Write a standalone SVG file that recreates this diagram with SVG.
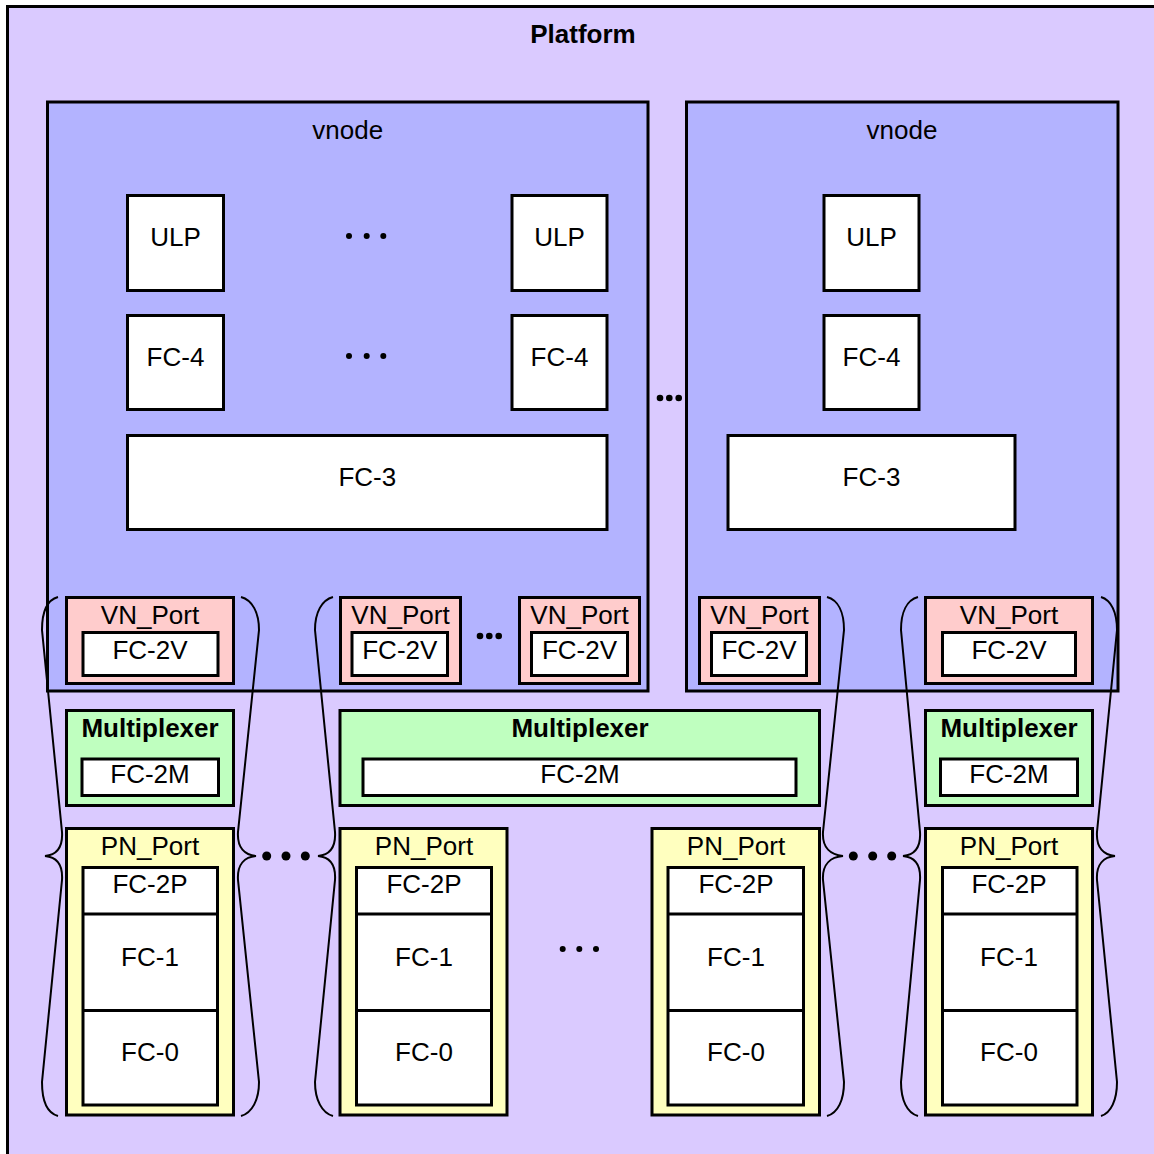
<svg xmlns="http://www.w3.org/2000/svg" width="1154" height="1154" viewBox="0 0 1154 1154">
<style>
.b{stroke:#000;stroke-width:3}
.plat{fill:#DACAFF}
.vn{fill:#B3B3FF}
.w{fill:#FFFFFF}
.pink{fill:#FFCCCC}
.grn{fill:#BFFFBF}
.yel{fill:#FFFFBF}
text{font-family:"Liberation Sans",Arial,sans-serif;font-size:26px;text-anchor:middle;fill:#000}
.bold{font-weight:bold}
.br{fill:none;stroke:#000;stroke-width:2}
.dot{fill:#000}
</style>
<g id="platform">
<rect class="plat b" x="7.5" y="6.5" width="1160" height="1160"/>
<text class="bold" x="583" y="43">Platform</text>
</g>
<g id="vnode1">
<rect class="vn b" x="47.5" y="102" width="600.5" height="589"/>
<text x="347.7" y="139">vnode</text>
</g>
<g id="vnode2">
<rect class="vn b" x="686.5" y="102" width="431.5" height="589"/>
<text x="902" y="139">vnode</text>
</g>
<g id="ulp1"><rect class="w b" x="127.5" y="195.5" width="96" height="95"/><text x="175.5" y="246">ULP</text></g>
<g id="ulp2"><rect class="w b" x="512" y="195.5" width="95" height="95"/><text x="559.5" y="246">ULP</text></g>
<g id="ulp3"><rect class="w b" x="824" y="195.5" width="95" height="95"/><text x="871.5" y="246">ULP</text></g>
<g id="fc4-1"><rect class="w b" x="127.5" y="315.5" width="96" height="94"/><text x="175.5" y="366">FC-4</text></g>
<g id="fc4-2"><rect class="w b" x="512" y="315.5" width="95" height="94"/><text x="559.5" y="366">FC-4</text></g>
<g id="fc4-3"><rect class="w b" x="824" y="315.5" width="95" height="94"/><text x="871.5" y="366">FC-4</text></g>
<g id="fc3-1"><rect class="w b" x="127.5" y="435.5" width="479.5" height="94"/><text x="367.3" y="486">FC-3</text></g>
<g id="fc3-2"><rect class="w b" x="728" y="435.5" width="287" height="94"/><text x="871.5" y="486">FC-3</text></g>

<g id="vnport1"><rect class="pink b" x="66.5" y="597.5" width="167" height="86"/><rect class="w b" x="83" y="632.5" width="135" height="43"/><text x="150" y="624">VN_Port</text><text x="150" y="659">FC-2V</text></g>
<g id="vnport2"><rect class="pink b" x="340.5" y="597.5" width="120" height="86"/><rect class="w b" x="352" y="632.5" width="95.5" height="43"/><text x="400.5" y="624">VN_Port</text><text x="399.8" y="659">FC-2V</text></g>
<g id="vnport3"><rect class="pink b" x="519.5" y="597.5" width="120" height="86"/><rect class="w b" x="531.5" y="632.5" width="96" height="43"/><text x="579.5" y="624">VN_Port</text><text x="579.5" y="659">FC-2V</text></g>
<g id="vnport4"><rect class="pink b" x="699.5" y="597.5" width="120" height="86"/><rect class="w b" x="711.5" y="632.5" width="95" height="43"/><text x="759.5" y="624">VN_Port</text><text x="759" y="659">FC-2V</text></g>
<g id="vnport5"><rect class="pink b" x="925.5" y="597.5" width="167" height="86"/><rect class="w b" x="942.5" y="632.5" width="133" height="43"/><text x="1009" y="624">VN_Port</text><text x="1009" y="659">FC-2V</text></g>

<g id="mux1"><rect class="grn b" x="66.5" y="710.5" width="167" height="95"/><rect class="w b" x="82" y="759" width="136.5" height="36.5"/><text class="bold" x="150" y="737">Multiplexer</text><text x="150" y="783">FC-2M</text></g>
<g id="mux2"><rect class="grn b" x="340" y="710.5" width="479.5" height="95"/><rect class="w b" x="363" y="759" width="433" height="36.5"/><text class="bold" x="580" y="737">Multiplexer</text><text x="580" y="783">FC-2M</text></g>
<g id="mux3"><rect class="grn b" x="925.5" y="710.5" width="167" height="95"/><rect class="w b" x="940.5" y="759" width="137" height="36.5"/><text class="bold" x="1009" y="737">Multiplexer</text><text x="1009" y="783">FC-2M</text></g>

<g id="pnport1"><rect class="yel b" x="66.5" y="828.5" width="167" height="286.5"/><rect class="w b" x="83" y="867.5" width="134.5" height="237.5"/><line class="b" x1="83" y1="914" x2="217.5" y2="914"/><line class="b" x1="83" y1="1010.5" x2="217.5" y2="1010.5"/><text x="150" y="855">PN_Port</text><text x="150" y="893">FC-2P</text><text x="150" y="966">FC-1</text><text x="150" y="1061">FC-0</text></g>
<g id="pnport2"><rect class="yel b" x="340" y="828.5" width="167" height="286.5"/><rect class="w b" x="356.5" y="867.5" width="135" height="237.5"/><line class="b" x1="356.5" y1="914" x2="491.5" y2="914"/><line class="b" x1="356.5" y1="1010.5" x2="491.5" y2="1010.5"/><text x="424" y="855">PN_Port</text><text x="424" y="893">FC-2P</text><text x="424" y="966">FC-1</text><text x="424" y="1061">FC-0</text></g>
<g id="pnport3"><rect class="yel b" x="652" y="828.5" width="167.5" height="286.5"/><rect class="w b" x="668" y="867.5" width="135.5" height="237.5"/><line class="b" x1="668" y1="914" x2="803.5" y2="914"/><line class="b" x1="668" y1="1010.5" x2="803.5" y2="1010.5"/><text x="736" y="855">PN_Port</text><text x="736" y="893">FC-2P</text><text x="736" y="966">FC-1</text><text x="736" y="1061">FC-0</text></g>
<g id="pnport4"><rect class="yel b" x="925.5" y="828.5" width="167" height="286.5"/><rect class="w b" x="942.5" y="867.5" width="134.5" height="237.5"/><line class="b" x1="942.5" y1="914" x2="1077" y2="914"/><line class="b" x1="942.5" y1="1010.5" x2="1077" y2="1010.5"/><text x="1009" y="855">PN_Port</text><text x="1009" y="893">FC-2P</text><text x="1009" y="966">FC-1</text><text x="1009" y="1061">FC-0</text></g>

<g id="connectors">
<path class="br" d="M58,597 C47,600 42,612 42,630 L62,832 C63,848 56,855 45,856 C56,857 63,864 62,880 L42,1082 C42,1100 47,1113 58,1116"/>
<path class="br" d="M241,597 C252,600 259,612 259,630 L238,832 C237,848 245,855 256,856 C245,857 237,864 238,880 L259,1082 C259,1100 252,1113 241,1116"/>
<path class="br" d="M333,597 C322,600 315,612 315,630 L335,832 C336,848 329,855 318,856 C329,857 336,864 335,880 L315,1082 C315,1100 322,1113 333,1116"/>
<path class="br" d="M827,597 C838,600 844,612 844,630 L823,832 C822,848 831,855 843,856 C831,857 822,864 823,880 L844,1082 C844,1100 838,1113 827,1116"/>
<path class="br" d="M918,597 C907,600 901,612 901,630 L920,832 C921,848 914,855 903,856 C914,857 921,864 920,880 L901,1082 C901,1100 907,1113 918,1116"/>
<path class="br" d="M1101,597 C1111,600 1117,612 1117,630 L1097,832 C1096,848 1104,855 1115,856 C1104,857 1096,864 1097,880 L1117,1082 C1117,1100 1111,1113 1101,1116"/>
</g>

<g id="ellipses">
<circle class="dot" cx="349" cy="236" r="3"/><circle class="dot" cx="366.7" cy="236" r="3"/><circle class="dot" cx="383.3" cy="236" r="3"/>
<circle class="dot" cx="349" cy="356" r="3"/><circle class="dot" cx="366.7" cy="356" r="3"/><circle class="dot" cx="383.3" cy="356" r="3"/>
<circle class="dot" cx="660" cy="398" r="3.3"/><circle class="dot" cx="669.3" cy="398" r="3.3"/><circle class="dot" cx="678.7" cy="398" r="3.3"/>
<circle class="dot" cx="480" cy="636" r="3.3"/><circle class="dot" cx="489.3" cy="636" r="3.3"/><circle class="dot" cx="498.7" cy="636" r="3.3"/>
<circle class="dot" cx="266.7" cy="856" r="4.5"/><circle class="dot" cx="286" cy="856" r="4.5"/><circle class="dot" cx="305.3" cy="856" r="4.5"/>
<circle class="dot" cx="853.3" cy="856" r="4.5"/><circle class="dot" cx="872.7" cy="856" r="4.5"/><circle class="dot" cx="891.7" cy="856" r="4.5"/>
<circle class="dot" cx="562.7" cy="949" r="3"/><circle class="dot" cx="579.3" cy="949" r="3"/><circle class="dot" cx="596" cy="949" r="3"/>
</g>
</svg>
